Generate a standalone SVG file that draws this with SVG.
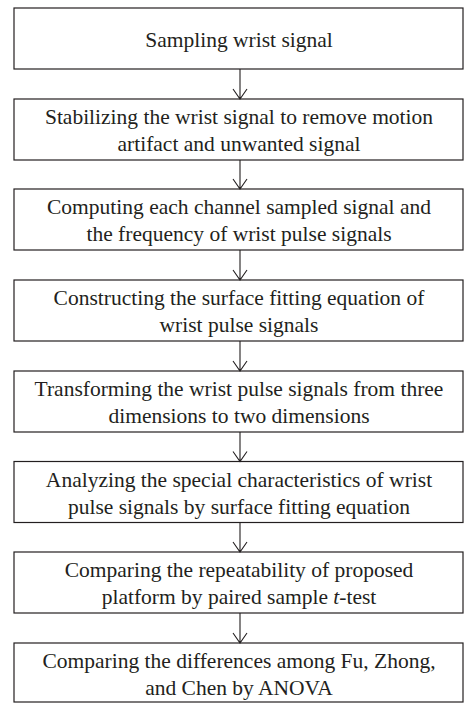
<svg xmlns="http://www.w3.org/2000/svg" width="464" height="703" viewBox="0 0 464 703">
<style>
.box{fill:#fff;stroke:#231f20;stroke-width:1.2}
.t{font-family:"Liberation Serif",serif;font-size:21.5px;fill:#231f20;text-anchor:middle}
.c{stroke:#231f20;stroke-width:1.1;fill:none}
</style>
<rect width="464" height="703" fill="#fff"/>
<g id="n1"><rect class="box" x="14" y="8" width="449" height="61"/><text class="t" x="239" y="47">Sampling wrist signal</text></g>
<g id="n2"><rect class="box" x="14" y="99" width="449" height="61"/><text class="t" x="239" y="124">Stabilizing the wrist signal to remove motion</text><text class="t" x="239" y="151">artifact and unwanted signal</text></g>
<g id="n3"><rect class="box" x="14" y="189" width="449" height="61"/><text class="t" x="239" y="214">Computing each channel sampled signal and</text><text class="t" x="239" y="241">the frequency of wrist pulse signals</text></g>
<g id="n4"><rect class="box" x="14" y="280" width="449" height="61"/><text class="t" x="239" y="305">Constructing the surface fitting equation of</text><text class="t" x="239" y="332">wrist pulse signals</text></g>
<g id="n5"><rect class="box" x="14" y="371" width="449" height="61"/><text class="t" x="239" y="396">Transforming the wrist pulse signals from three</text><text class="t" x="239" y="423">dimensions to two dimensions</text></g>
<g id="n6"><rect class="box" x="14" y="461.5" width="449" height="61"/><text class="t" x="239" y="486.5">Analyzing the special characteristics of wrist</text><text class="t" x="239" y="513.5">pulse signals by surface fitting equation</text></g>
<g id="n7"><rect class="box" x="14" y="552" width="449" height="61"/><text class="t" x="239" y="577">Comparing the repeatability of proposed</text><text class="t" x="239" y="604">platform by paired sample <tspan font-style="italic">t</tspan>-test</text></g>
<g id="n8"><rect class="box" x="14" y="643" width="449" height="59"/><text class="t" x="239" y="668">Comparing the differences among Fu, Zhong,</text><text class="t" x="239" y="695">and Chen by ANOVA</text></g>
<g id="connectors">
<path class="c" d="M240 69V99M233 89L240 99L247 89"/>
<path class="c" d="M240 160V189M233 179L240 189L247 179"/>
<path class="c" d="M240 250V280M233 270L240 280L247 270"/>
<path class="c" d="M240 341V371M233 361L240 371L247 361"/>
<path class="c" d="M240 432V461.5M233 451.5L240 461.5L247 451.5"/>
<path class="c" d="M240 522.5V552M233 542L240 552L247 542"/>
<path class="c" d="M240 613V643M233 633L240 643L247 633"/>
</g>
</svg>
